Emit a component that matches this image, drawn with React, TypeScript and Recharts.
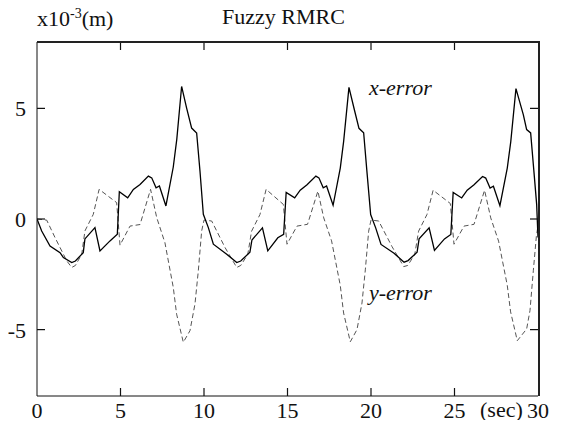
import React from 'react';
import { LineChart, Line, XAxis, YAxis } from 'recharts';

// x-error (solid), three 10 s cycles
const xErrorTime = [
  0, 0.28, 0.78, 1.38, 1.58, 2.08, 2.3, 2.77, 2.87, 3.47, 3.77, 4.37, 4.81, 4.93, 5.43, 5.77, 6.17, 6.67, 6.87, 7.13, 7.33, 7.72, 8.16, 8.37, 8.66, 8.96, 9.26, 9.56, 9.76, 9.96,
  10.26, 10.56, 11.36, 11.96, 12.2, 12.75, 12.87, 13.5, 13.82, 14.42, 14.77, 14.92, 15.43, 15.76, 16.17, 16.7, 16.88, 17.14, 17.34, 17.73, 18.16, 18.36, 18.68, 19.0, 19.28, 19.56, 19.75, 19.98,
  20.28, 20.6, 21.38, 21.98, 22.22, 22.76, 22.88, 23.48, 23.8, 24.4, 24.78, 24.92, 25.43, 25.76, 26.17, 26.68, 26.87, 27.13, 27.33, 27.72, 28.16, 28.37, 28.68, 29.12, 29.32, 29.56, 29.75, 29.92, 30,
];
const xErrorValue = [
  0, -0.54, -1.22, -1.52, -1.74, -1.97, -1.9, -1.52, -0.9, -0.39, -1.44, -0.99, -0.69, 1.23, 0.96, 1.34, 1.56, 1.94, 1.86, 1.41, 1.49, 0.59, 2.35, 3.6, 5.99, 5.01, 4.11, 3.89, 2.16, 0.21,
  -0.39, -1.14, -1.59, -1.97, -1.9, -1.5, -0.95, -0.4, -1.44, -0.85, -0.69, 1.2, 0.96, 1.3, 1.55, 1.94, 1.86, 1.41, 1.49, 0.62, 2.3, 3.5, 5.95, 4.95, 4.1, 3.9, 2.2, 0.2,
  -0.4, -1.15, -1.55, -1.95, -1.88, -1.5, -0.9, -0.4, -1.42, -0.9, -0.7, 1.2, 0.95, 1.3, 1.55, 1.92, 1.85, 1.4, 1.48, 0.6, 2.3, 3.5, 5.89, 4.72, 4.04, 3.89, 2.2, 0.66, -0.84,
];

// y-error (dashed)
const yErrorTime = [
  0, 0.58, 1.08, 1.78, 2.08, 2.3, 2.68, 2.87, 3.37, 3.72, 4.77, 4.97, 5.57, 6.17, 6.8, 7.17, 7.66, 8.16, 8.36, 8.76, 9.16, 9.46, 9.66, 9.86,
  10.0, 10.46, 11.26, 11.96, 12.2, 12.62, 12.85, 13.35, 13.72, 14.75, 14.97, 15.57, 16.2, 16.82, 17.17, 17.64, 18.16, 18.36, 18.76, 19.16, 19.46, 19.66, 19.86,
  20.0, 20.46, 21.26, 21.96, 22.2, 22.62, 22.85, 23.35, 23.72, 24.75, 24.97, 25.57, 26.17, 26.8, 27.17, 27.64, 28.16, 28.36, 28.76, 29.32, 29.52, 29.72, 29.9, 30,
];
const yErrorValue = [
  0, -0.05, -0.84, -1.89, -2.19, -2.1, -1.59, -0.54, 0.21, 1.34, 0.74, -1.18, -0.32, -0.25, 1.34, 0.06, -1.07, -3.09, -4.3, -5.57, -5.05, -3.84, -2.34, -0.54,
  -0.05, -0.09, -1.29, -2.19, -2.1, -1.6, -0.55, 0.2, 1.34, 0.66, -1.14, -0.32, -0.24, 1.26, 0.05, -0.99, -3.0, -4.25, -5.55, -5.0, -3.8, -2.3, -0.55,
  -0.05, -0.09, -1.25, -2.15, -2.1, -1.6, -0.55, 0.2, 1.3, 0.7, -1.14, -0.32, -0.24, 1.3, 0.05, -1.0, -3.0, -4.2, -5.5, -4.97, -4.14, -2.34, -0.8, -0.3,
];

const timeTicks = [0, 5, 10, 15, 20, 25, 30];
const errorTicks = [-5, 0, 5];

const xErrorData = xErrorTime.map((t, i) => ({ t, v: xErrorValue[i] }));
const yErrorData = yErrorTime.map((t, i) => ({ t, v: yErrorValue[i] }));

const font = "'Liberation Serif', 'Times New Roman', serif";

// plot box
const W = 561;
const H = 428;
const TOP = 42;
const RIGHT = 23;
const LEFT = 37;
const BOTTOM = 32;
const plotRight = W - RIGHT;
const plotBottom = H - BOTTOM;
const TICK = 8;

// bottom tick: label below, inward tick on bottom and top edge
const TimeTick = (props: any) => {
  const { x, payload } = props;
  const inner = payload.value !== 0 && payload.value !== 30;
  return (
    <g>
      {inner && <line x1={x} x2={x} y1={TOP} y2={TOP + TICK} stroke="#111" strokeWidth={1.2} />}
      {inner && <line x1={x} x2={x} y1={plotBottom - TICK} y2={plotBottom} stroke="#111" strokeWidth={1.2} />}
      <text x={x} y={plotBottom + 22} textAnchor="middle" fontSize={22} fill="#111" fontFamily={font}>
        {payload.value}
      </text>
    </g>
  );
};

// left tick: label on the left, inward tick on left and right edge
const ErrorTick = (props: any) => {
  const { y, payload } = props;
  return (
    <g>
      <line x1={LEFT} x2={LEFT + TICK} y1={y} y2={y} stroke="#111" strokeWidth={1.2} />
      <line x1={plotRight - TICK} x2={plotRight} y1={y} y2={y} stroke="#111" strokeWidth={1.2} />
      <text x={LEFT - 11} y={y + 8} textAnchor="end" fontSize={22} fill="#111" fontFamily={font}>
        {payload.value}
      </text>
    </g>
  );
};

const App: React.FC = () => {
  return (
    <div style={{ position: 'relative', width: W, height: H, margin: -8, background: '#fff', fontFamily: font, color: '#111' }}>
      <LineChart width={W} height={H} margin={{ top: TOP, right: RIGHT, bottom: 0, left: 0 }}>
        <XAxis
          type="number"
          dataKey="t"
          domain={[0, 30]}
          ticks={timeTicks}
          height={BOTTOM}
          tickLine={false}
          stroke="#111"
          tick={<TimeTick />}
          interval={0}
          allowDataOverflow
        />
        <YAxis
          type="number"
          domain={[-8, 8]}
          ticks={errorTicks}
          width={LEFT}
          tickLine={false}
          stroke="#111"
          tick={<ErrorTick />}
          interval={0}
          allowDataOverflow
        />
        <Line
          data={yErrorData}
          dataKey="v"
          type="linear"
          stroke="#555"
          strokeWidth={1}
          strokeDasharray="5 3"
          dot={false}
          isAnimationActive={false}
        />
        <Line
          data={xErrorData}
          dataKey="v"
          type="linear"
          stroke="#000"
          strokeWidth={1.3}
          dot={false}
          isAnimationActive={false}
        />
      </LineChart>

      {/* top and right edges of the frame */}
      <div
        style={{
          position: 'absolute',
          left: LEFT,
          top: TOP - 1,
          width: plotRight - LEFT + 2,
          height: plotBottom - TOP + 1,
          borderTop: '2px solid #222',
          borderRight: '2px solid #222',
          boxSizing: 'border-box',
          pointerEvents: 'none',
          zIndex: 5,
        }}
      />

      <div style={{ position: 'absolute', left: 222, top: 4, fontSize: 22, lineHeight: '26px', zIndex: 5 }}>Fuzzy RMRC</div>
      <div style={{ position: 'absolute', left: 37, top: 6, fontSize: 22, lineHeight: '26px', zIndex: 5 }}>
        x10<sup style={{ fontSize: 14, lineHeight: 0 }}>-3</sup>(m)
      </div>
      <div style={{ position: 'absolute', left: 369, top: 75, fontSize: 22, fontStyle: 'italic', zIndex: 5 }}>x-error</div>
      <div style={{ position: 'absolute', left: 369, top: 280, fontSize: 22, fontStyle: 'italic', zIndex: 5 }}>y-error</div>
      <div style={{ position: 'absolute', left: 480, top: 397, fontSize: 22, zIndex: 5 }}>(sec)</div>
    </div>
  );
};

export default App;
